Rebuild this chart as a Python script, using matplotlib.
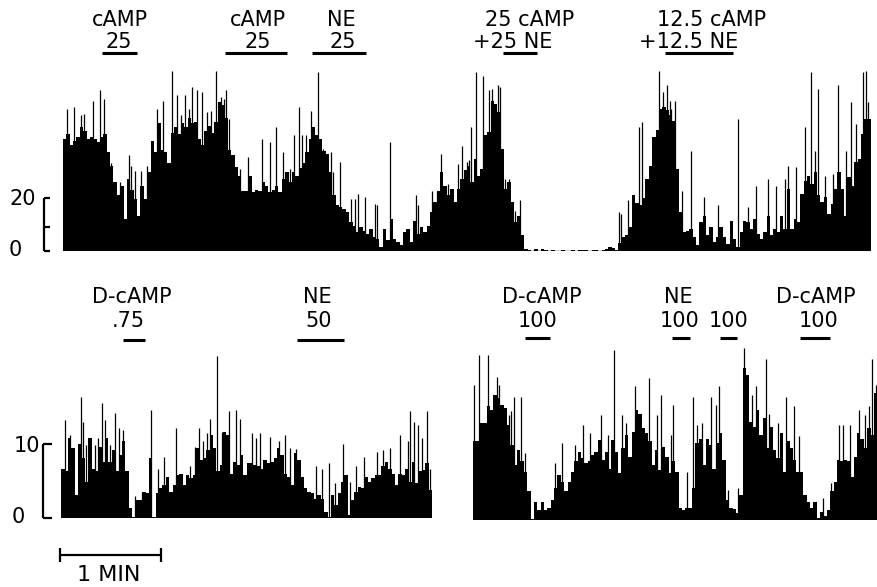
import matplotlib
matplotlib.use("Agg")
import matplotlib.pyplot as plt
from matplotlib.lines import Line2D
import numpy as np

W, H = 878, 587
BIN = 2  # seconds per histogram bin

# ---------------- data: spikes / s, 2-s bins ----------------
top_rate = [
    42, 44, 40, 41.5, 43, 46.5, 45, 42, 43, 42,
    41, 43, 44, 37, 32, 26, 21, 24.5, 12, 27,
    23, 19.5, 13, 24.5, 19.5, 29.5, 41.5, 37, 48, 38,
    37, 33, 44.5, 46.5, 44, 48, 46.5, 50, 48, 48.5,
    42, 40, 45, 47, 44.5, 48.5, 56, 55, 50, 38,
    36, 31.5, 28, 22.5, 22.5, 28, 22, 23, 22.5, 26,
    24.5, 22, 23, 24.5, 22, 27, 29.5, 26, 29.5, 28,
    31, 33, 37, 42, 46.5, 43.4, 42, 37.7, 36.5, 29.5,
    20.8, 17, 16.4, 15.7, 14.5, 10.7, 9.4, 6.9, 8.8, 7.5,
    6.3, 8.2, 5, 4.4, 1.3, 8.2, 3.8, 12, 4.4, 3.1,
    1.9, 6.9, 8.2, 3.1, 11.3, 6.3, 8.8, 6.9, 9.4, 14.5,
    18.2, 22.6, 29.5, 24.5, 20.8, 23.3, 18.2, 23.3, 27, 30.2,
    32, 25.8, 34.6, 28.3, 30.8, 43.4, 44.7, 56.6, 55.3, 52.2,
    38.4, 23.3, 25.8, 18.2, 10.7, 13.2, 6, 0.5, 0.3, 0,
    0.5, 0, 0.4, 0.2, 0, 0.3, 0, 0, 0.2, 0,
    0, 0.3, 0, 0.2, 0.3, 0.2, 0, 0.3, 0.2, 0,
    0.3, 0.6, 1.5, 1.0, 0.3, 3, 5, 6, 9, 21,
    18, 17, 20, 27, 32, 43, 45.5, 53.5, 54, 53,
    51, 49, 30.8, 14.5, 6.9, 7.5, 8.2, 5, 1.9, 10.7,
    13.2, 5.7, 8.8, 3.1, 5, 8.8, 5, 2.5, 11.3, 4.4,
    1.3, 6.9, 11.3, 10.7, 8.2, 12, 6.3, 4.4, 6.9, 13.2,
    5.7, 8.2, 6.9, 13.2, 8.2, 23.3, 8.2, 12, 10.7, 21.4,
    26.4, 28.3, 25.2, 29.6, 20.8, 18.2, 20.1, 13.8, 17.6, 23.3,
    29.6, 23.3, 13.2, 27.7, 24.5, 33.3, 34.6, 44, 49.7, 49.7,
]
top_peak_t = [
    2.6, 6.5, 10.9, 12.5, 17.8, 21.8, 24.4, 28.7, 33.7, 39, 40.2, 43, 46.5, 50.1,
    55.9, 59.4, 64.8, 67.9, 70.3, 72.3, 74.9, 76.6, 79.8, 82.8, 85.6, 88.1, 90.7,
    94.1, 95.5, 96.7, 98.4, 105, 109.9, 118.2,
    122.8, 126.7, 130.7, 134.7, 137.1, 140.2, 142.2, 144.2, 147.5, 151.7, 154.5,
    159, 160.4, 164.8, 170.9, 173.3, 175.5, 179.2, 185.2, 186.8, 194.3, 209.6,
    210.7, 219.5, 222.2, 224.8, 229, 231.3, 234.7, 237.3, 240,
    241, 242.4, 245.4, 249.7, 252.9, 254.9, 258.3, 259.8, 262.8, 264.8, 268.8,
    271.5, 330.5, 331.7, 335.5, 342.4, 343.8, 353.9, 356.3, 358.9, 360.7,
    361.1, 363.4, 368, 373.1, 380.9, 389.4, 401.1, 407, 411.6, 418.7, 423.5,
    428.8, 430.8, 435.7, 440.7, 444.3, 446.8, 448.4, 452.8, 457.5, 460.5, 465.1,
    468.4, 471, 475.3, 476.9, 478.5,
]
top_peak_h = [
    53.5, 54, 51, 51.6, 56.6, 60.4, 57.2, 33, 25.8, 36, 32, 30, 30, 32,
    53.5, 56.6, 67.9, 58.5, 51, 58.5, 53.5, 61.6, 60.4, 59.7, 52.2, 52.8, 67.9,
    57.9, 57.2, 60.4, 49.6, 30.8, 35.2, 42,
    40.9, 46.5, 37.1, 30.7, 43.4, 54, 43.4, 43.4, 52.8, 67.3, 38.4,
    37.1, 29.6, 33.3, 19.5, 19.5, 21.4, 20.1, 17.6, 17, 40.9, 20.8,
    17, 22.6, 22, 36.5, 25.2, 18.2, 32.7, 39.6, 33.3,
    34, 46.5, 67.3, 66, 60.4, 61, 62.3, 61.6, 27, 27, 15,
    18.9, 14.5, 13.8, 18.9, 46.5, 48.4, 67.9, 59.7, 62.3, 56.6,
    53.5, 56.6, 22.6, 37.7, 20.1, 17, 49.7, 16.4, 24.5, 27, 24.5,
    27, 32, 31.4, 46.5, 67.3, 37.7, 61, 28.3, 28.9, 62.3, 37.7,
    56, 47.8, 67.3, 67.9, 56,
]

bl_rate = [
    6.7, 6.3, 10.8, 9.5, 3.1, 10.1, 8.1, 4.9, 10.8, 6.7,
    6.3, 9.7, 7.6, 10.8, 7.6, 9.2, 6.3, 8.5, 10.4, 6.3,
    1.3, 0.1, 2.4, 2.4, 3.5, 3.3, 8.1, 0.1, 3.3, 4,
    4.5, 5.6, 3.5, 4.5, 5.8, 6, 4.5, 5.8, 5.4, 5.8,
    9.5, 7.9, 8.1, 9.2, 11.3, 9.5, 6.3, 7.2, 11.7, 11.3,
    6, 7.6, 7.2, 8.5, 5.8, 7.4, 7.4, 7.2, 7, 6.7,
    7.9, 7.4, 7.6, 8.1, 9.5, 8.5, 6, 5.6, 4.5, 8.8,
    7.9, 5.6, 4, 3.5, 3.3, 2.6, 3.1, 2.6, 0.8, 0.1,
    3.1, 1.7, 3.3, 4.9, 5.8, 0.4, 2.4, 3.5, 4.2, 4,
    5.6, 4.9, 5.4, 5.8, 5.8, 7, 7.6, 6.7, 6, 4.5,
    6, 5.8, 6.7, 4.9, 7.6, 4.7, 6.3, 6.5, 7.4, 3.8,
]
bl_peak_t = [
    2, 5, 11.9, 12.9, 14.9, 19.8, 21.8, 24.2, 26.1, 28.7, 32.1, 34.1, 36.6, 43.6,
    48.1, 53.1, 57.4, 61, 67.9, 76.2, 79.6, 81.8, 83.8, 86.3, 88.1, 92.7, 95.4,
    99.4, 103.4, 106.3, 112.9, 115.8, 118.2, 123.8, 129.1, 132.7, 136, 139,
    151.1, 155, 158.8, 162.4, 167.3, 171.3, 174.9, 179.8, 187.5, 191.1, 195,
    201, 205.5, 206.9, 209.1, 211.9, 213.9, 217, 218.8,
]
bl_peak_h = [
    13.3, 11.3, 16.5, 13.1, 9.9, 9.9, 10.8, 15.6, 13.3, 9.9, 14.2, 12.2, 12, 3,
    3.5, 14.7, 6.7, 8.3, 12.2, 7.1, 9.7, 12.2, 10.4, 11.5, 13.5, 22, 11.7,
    14.5, 14.7, 13.5, 11.5, 10.8, 11.5, 11, 10.4, 11.3, 9.5, 9.3,
    7, 6.7, 7.4, 4.7, 10.1, 4.9, 7, 8.3, 9, 9.2, 9.5,
    11.3, 10.4, 14.5, 13.1, 12.6, 10.8, 14.5, 6.7,
]

br_rate = [
    10.7, 10.7, 13.2, 13.2, 15.5, 15, 17, 16.6, 15.7, 15.2,
    13, 10.2, 7.5, 9.5, 8, 6.6, 3.9, 0.2, 2.5, 1.4,
    2.5, 1.4, 1.6, 2.7, 4.3, 6.1, 5.2, 3.9, 5.2, 6.6,
    8, 9.3, 8.4, 7.7, 8, 8.9, 9.3, 10.9, 8.2, 9.3,
    7, 10.9, 9.3, 6.4, 9.8, 11.6, 8.6, 12, 15, 14.5,
    12.5, 11.8, 10.7, 7.5, 9.5, 6.8, 10, 8.6, 6.4, 8,
    6.6, 1.6, 1.4, 1.6, 1.6, 4.3, 10.5, 11.1, 7.5, 11.1,
    10.2, 7, 10.5, 11.8, 8.2, 2.7, 1.6, 1.5, 0.9, 3.4,
    20.7, 19.8, 13.4, 12.7, 15, 11.6, 13.9, 9.8, 12.7, 9.5,
    8.4, 11.8, 6.6, 10.7, 9.8, 8.2, 6.6, 6.6, 3.4, 2.5,
    1.6, 2.5, 0.3, 1.1, 0.5, 1.4, 3.9, 5.2, 8.2, 8,
    8.2, 8, 5.9, 8.6, 11.8, 11.1, 9.8, 12.5, 11.6, 17.3,
]
br_peak_t = [
    0.3, 3.6, 8.7, 13.9, 15.5, 21, 22.4, 24.4, 28.3, 30.9, 48.5, 52.7, 60.6, 64.9,
    69.3, 75.9, 80.2, 83.8, 88.3, 90.7, 95.9, 104.2, 108.9, 111.5, 117.5,
    118.9, 126.8, 130.7, 133.1, 135.7, 141, 144.2, 145.8, 151.2, 157.5, 160.8,
    165.4, 168, 173.9, 175.9, 181.2, 185.8, 190.5, 193.5, 207.6, 212.5, 217.5,
    219.8, 223.8, 229.4, 232.7, 235.3, 237.1, 239.3,
]
br_peak_h = [
    18.4, 22.5, 22.5, 19.5, 18.4, 14.3, 14.8, 16.8, 16.8, 9.1, 7.7, 10.5, 10.2, 13,
    11.8, 14.3, 11.6, 23.2, 14.3, 13.2, 18.2, 19.3, 14.3, 17, 11.6,
    15.7, 6.6, 16.8, 13, 13.2, 16.8, 15.7, 18.2, 4.1, 4.3, 23.5,
    17, 18.2, 22, 14.5, 13.2, 16.8, 15.5, 11.4, 3, 5, 13,
    13, 13, 15, 14.3, 15.5, 22, 18.4,
]

# drug application periods (s) and labels
top_drug_on = [23.2, 96.3, 148, 261.4, 357.7]
top_drug_off = [44.0, 133.1, 180, 281.6, 398.1]
bl_drug_on = [36.7, 140]
bl_drug_off = [49.7, 167.5]
br_drug_on = [30.7, 118, 146.6, 194]
br_drug_off = [45.6, 128.7, 156.6, 211.8]

top_labels = [("cAMP", 120, 20), ("25", 119, 42), ("cAMP", 258, 20), ("25", 258, 42),
              ("NE", 341, 20), ("25", 343, 42), ("25 cAMP", 530, 20), ("+25 NE", 513, 42),
              ("12.5 cAMP", 712, 20), ("+12.5 NE", 689, 42)]
bottom_labels = [("D-cAMP", 132, 297), (".75", 128, 321), ("NE", 317, 297), ("50", 319, 321),
                 ("D-cAMP", 542, 297), ("100", 538, 321), ("NE", 678, 297), ("100", 680, 321),
                 ("100", 729, 321), ("D-cAMP", 816, 297), ("100", 819, 321)]

# ---------------- figure ----------------
fig = plt.figure(figsize=(W / 100, H / 100), dpi=100)
fig.patch.set_facecolor("white")


def axes_px(x0, x1, ytop, ybase):
    return fig.add_axes([x0 / W, 1 - ybase / H, (x1 - x0) / W, (ybase - ytop) / H])


def draw_panel(ax, rate, pk_t, pk_h, dur, ymax):
    edges = np.arange(len(rate) + 1) * BIN
    ax.stairs(rate, edges, fill=True, color="black", linewidth=0)
    ax.vlines(pk_t, 0, pk_h, colors="black", linewidth=0.9)
    ax.axhline(0, color="black", linewidth=1.0)
    ax.set_xlim(0, dur)
    ax.set_ylim(0, ymax)
    ax.axis("off")


ax_top = axes_px(63, 871, 45, 250.5)
draw_panel(ax_top, top_rate, top_peak_t, top_peak_h, 480, 205.5 / 2.65)
ax_bl = axes_px(61.3, 432, 340, 517.7)
draw_panel(ax_bl, bl_rate, bl_peak_t, bl_peak_h, 220, 177.7 / 7.34)
ax_br = axes_px(473.3, 877.3, 340, 520)
draw_panel(ax_br, br_rate, br_peak_t, br_peak_h, 240, 180 / 7.34)

# drug bars
for a, b in zip(top_drug_on, top_drug_off):
    ax_top.plot([a, b], [74.6, 74.6], color="black", lw=2.2, clip_on=False, solid_capstyle="butt")
for a, b in zip(bl_drug_on, bl_drug_off):
    ax_bl.plot([a, b], [24.2, 24.2], color="black", lw=2.2, clip_on=False, solid_capstyle="butt")
for a, b in zip(br_drug_on, br_drug_off):
    ax_br.plot([a, b], [24.8, 24.8], color="black", lw=2.2, clip_on=False, solid_capstyle="butt")

# scale bars (rate)
kw = dict(color="black", lw=1.6, clip_on=False, solid_capstyle="butt")
ax_top.plot([-11.3, -11.3], [0, 20], **kw)
for yv in (0, 9, 20):
    ax_top.plot([-11.3, -7.5], [yv, yv], **kw)
ax_bl.plot([-10.9, -10.9], [0, 10], **kw)
for yv in (0, 10):
    ax_bl.plot([-10.9, -5.5], [yv, yv], **kw)
# 1 min time bar
ax_bl.plot([-0.8, 59.2], [-5.08, -5.08], **kw)
for xv in (-0.8, 59.2):
    ax_bl.plot([xv, xv], [-4.1, -6.0], **kw)

FS = 15
for s, x, y in top_labels + bottom_labels:
    fig.text(x / W, 1 - y / H, s, ha="center", va="center", fontsize=FS, color="black")
for s, x, y in [("20", 23, 199), ("0", 15, 250), ("10", 27, 446), ("0", 18, 517)]:
    fig.text(x / W, 1 - y / H, s, ha="center", va="center", fontsize=FS, color="black")
fig.text(109 / W, 1 - 575 / H, "1 MIN", ha="center", va="center", fontsize=16, color="black")

fig.savefig("out.png", dpi=100, facecolor="white")
